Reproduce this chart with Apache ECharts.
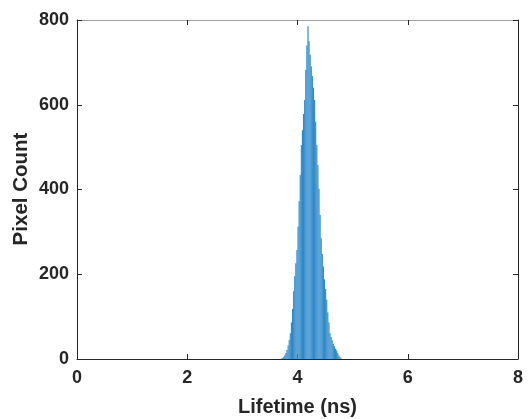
<!doctype html>
<html>
<head>
    <meta charset="utf-8">
    <title>lifetime-histogram</title>
    <script src="https://cdn.jsdelivr.net/npm/echarts@6/dist/echarts.min.js"></script>
    <style>
        html,body{margin:0;padding:0;background:#fff;}
        #ID-Chart{width:530px;height:419px;}
    </style>
</head>
<body>
    <div id="ID-Chart"></div>
    <script>
        //bin centres (ns), bin width 0.02
        var binWidth=0.02;
        var binCenters=[3.71,3.73,3.75,3.77,3.79,3.81,3.83,3.85,3.87,3.89,
                        3.91,3.93,3.95,3.97,3.99,4.01,4.03,4.05,4.07,4.09,
                        4.11,4.13,4.15,4.17,4.19,4.21,4.23,4.25,4.27,4.29,
                        4.31,4.33,4.35,4.37,4.39,4.41,4.43,4.45,4.47,4.49,
                        4.51,4.53,4.55,4.57,4.59,4.61,4.63,4.65,4.67,4.69,
                        4.71,4.73,4.75,4.77,4.79];
        //pixel counts
        var pixelCounts=[1,2,5,9,14,21,32,45,61,86,
                         118,160,195,226,257,312,372,434,505,540,
                         578,611,682,740,785,750,718,690,668,640,
                         611,560,505,458,402,340,285,248,218,188,
                         165,140,110,86,61,52,44,36,30,24,
                         20,14,9,5,2];
        var xTicks=[0,2,4,6,8];
        var yTicks=[0,200,400,600,800];
        var yTitle='Pixel Count';

        var barColor='#2a86c8';
        var axisColor='#262626';
        var fontFamily='"Liberation Sans", Arial, sans-serif';

        var histData=[];
        for(var i=0;i<binCenters.length;i++){
            histData.push([binCenters[i],pixelCounts[i]]);
        }

        var chart=echarts.init(document.getElementById("ID-Chart"));
        var option={
            animation:false,
            grid:{left:77,right:12,top:20,bottom:60,outerBoundsMode:'none',containLabel:false},
            //y-axis title placed by hand so it sits where the reference has it
            graphic:[{
                type:'text',
                x:21,y:189,
                rotation:Math.PI/2,
                style:{
                    text:yTitle,
                    fontFamily:fontFamily,fontWeight:'bold',fontSize:20.5,
                    fill:axisColor,align:'center',verticalAlign:'middle'
                }
            }],
            xAxis:[{
                type:'value',
                min:xTicks[0],max:xTicks[xTicks.length-1],interval:2,
                name:'Lifetime (ns)',nameLocation:'middle',nameGap:38,
                nameTextStyle:{fontFamily:fontFamily,fontWeight:'bold',fontSize:20,color:axisColor},
                axisLine:{onZero:false,lineStyle:{color:axisColor,width:1}},
                axisTick:{inside:true,length:5,lineStyle:{color:axisColor}},
                axisLabel:{fontFamily:fontFamily,fontWeight:'bold',fontSize:18,color:axisColor,margin:10},
                splitLine:{show:false}
            },{
                type:'value',position:'top',
                min:xTicks[0],max:xTicks[xTicks.length-1],interval:2,
                axisLine:{show:true,onZero:false,lineStyle:{color:'#a0a0a0',width:1}},
                axisTick:{inside:true,length:5,lineStyle:{color:axisColor}},
                axisLabel:{show:false},
                splitLine:{show:false}
            }],
            yAxis:[{
                type:'value',
                min:yTicks[0],max:yTicks[yTicks.length-1],interval:200,
                axisLine:{show:true,onZero:false,lineStyle:{color:axisColor,width:1}},
                axisTick:{show:true,inside:true,length:5,lineStyle:{color:axisColor}},
                axisLabel:{fontFamily:fontFamily,fontWeight:'bold',fontSize:18,color:axisColor,margin:8},
                splitLine:{show:false}
            },{
                type:'value',position:'right',
                min:yTicks[0],max:yTicks[yTicks.length-1],interval:200,
                axisLine:{show:true,onZero:false,lineStyle:{color:axisColor,width:1}},
                axisTick:{show:true,inside:true,length:5,lineStyle:{color:axisColor}},
                axisLabel:{show:false},
                splitLine:{show:false}
            }],
            series:[{
                type:'custom',
                xAxisIndex:0,yAxisIndex:0,
                data:histData,
                renderItem:function(params,api){
                    var x=api.value(0);
                    var p0=api.coord([x-binWidth/2,api.value(1)]);
                    var p1=api.coord([x+binWidth/2,0]);
                    return {
                        type:'rect',
                        shape:{x:p0[0],y:p0[1],width:p1[0]-p0[0],height:p1[1]-p0[1]},
                        style:{fill:barColor,stroke:'#5fa6da',lineWidth:0.1}
                    };
                }
            }]
        };
        chart.setOption(option);
    </script>
</body>
</html>
